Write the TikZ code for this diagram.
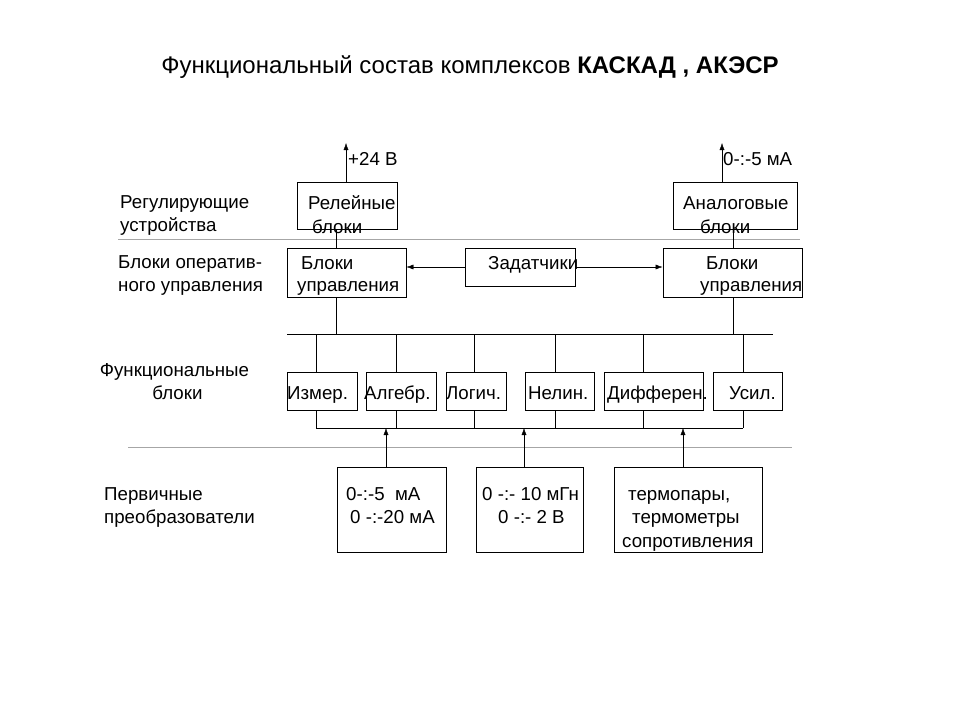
\documentclass[tikz,border=0pt]{standalone}
\usepackage{fontspec}
\setmainfont{Liberation Sans}
\usepackage{tikz}
\usetikzlibrary{arrows.meta,calc,positioning}

\begin{document}
\begin{tikzpicture}[x=1pt,y=-1pt,
	blk/.style={draw,line width=0.9pt,inner sep=0pt},
	lbl/.style={anchor=base west,inner sep=0pt,font=\fontsize{18.7}{22}\selectfont},
	sep/.style={draw=gray!70,line width=0.6pt},
	>={Latex[length=7pt,width=5pt]}]
		\useasboundingbox (0,0) rectangle (960,720);
		% title
		\node[anchor=base,inner sep=0pt,font=\fontsize{24}{28}\selectfont] (title) at (470,73) {Функциональный состав комплексов \textbf{КАСКАД , АКЭСР}};
		% boxes
		\node[blk,minimum width=100pt,minimum height=47pt] (rel) at (347,205.5) {};
		\node[blk,minimum width=124pt,minimum height=47pt] (ana) at (735,205.5) {};
		\node[blk,minimum width=119pt,minimum height=49pt] (ctlL) at (346.5,272.5) {};
		\node[blk,minimum width=110pt,minimum height=38pt] (zad) at (520,267) {};
		\node[blk,minimum width=139pt,minimum height=49pt] (ctlR) at (732.5,272.5) {};
		\node[blk,minimum width=70pt,minimum height=38pt] (izm) at (322,391) {};
		\node[blk,minimum width=70pt,minimum height=38pt] (alg) at (401,391) {};
		\node[blk,minimum width=60pt,minimum height=38pt] (log) at (476,391) {};
		\node[blk,minimum width=69pt,minimum height=38pt] (nel) at (559.5,391) {};
		\node[blk,minimum width=99pt,minimum height=38pt] (dif) at (653.5,391) {};
		\node[blk,minimum width=69pt,minimum height=38pt] (usl) at (747.5,391) {};
		\node[blk,minimum width=109pt,minimum height=85pt] (s1) at (391.5,509.5) {};
		\node[blk,minimum width=107pt,minimum height=85pt] (s2) at (529.5,509.5) {};
		\node[blk,minimum width=148pt,minimum height=85pt] (s3) at (688,509.5) {};
		% texts
		\node[lbl] (t24) at (348,165) {+24 В};
		\node[lbl] (t05) at (723,165) {0-:-5 мА};
		\node[lbl] (rel1) at (308,209) {Релейные};
		\node[lbl] (rel2) at (312,233) {блоки};
		\node[lbl] (ana1) at (683,209) {Аналоговые};
		\node[lbl] (ana2) at (700,233) {блоки};
		\node[lbl] (ctlL1) at (301,269) {Блоки};
		\node[lbl] (ctlL2) at (297,291) {управления};
		\node[lbl] (zad1) at (488,269) {Задатчики};
		\node[lbl] (ctlR1) at (706,269) {Блоки};
		\node[lbl] (ctlR2) at (700,291) {управления};
		\node[lbl] (izm1) at (287,399) {Измер.};
		\node[lbl] (alg1) at (364,399) {Алгебр.};
		\node[lbl] (log1) at (446,399) {Логич.};
		\node[lbl] (nel1) at (528,399) {Нелин.};
		\node[lbl] (dif1) at (607,399) {Дифферен.};
		\node[lbl] (usl1) at (729,399) {Усил.};
		\node[lbl] (s1a) at (346,500) {0-:-5~~мА};
		\node[lbl] (s1b) at (350,523) {0 -:-20 мА};
		\node[lbl] (s2a) at (482,500) {0 -:- 10 мГн};
		\node[lbl] (s2b) at (498,523) {0 -:- 2 В};
		\node[lbl] (s3a) at (628,500) {термопары,};
		\node[lbl] (s3b) at (632,523) {термометры};
		\node[lbl] (s3c) at (622,547) {сопротивления};
		% left column
		\node[lbl] (reg1) at (120,208) {Регулирующие};
		\node[lbl] (reg2) at (120,231) {устройства};
		\node[lbl] (op1) at (118,268) {Блоки оператив-};
		\node[lbl] (op2) at (118,291) {ного управления};
		\node[lbl,anchor=base] (fb1) at (174.5,376) {Функциональные};
		\node[lbl,anchor=base] (fb2) at (177.5,399) {блоки};
		\node[lbl] (pp1) at (104,500) {Первичные};
		\node[lbl] (pp2) at (104,523) {преобразователи};
		% separators
		\draw[sep] (118,239) -- (800,239);
		\draw[sep] (128,447) -- (792,447);
		% outputs
		\coordinate (outL) at (346,143);
		\coordinate (outR) at (722,143);
		\draw[->] (outL |- rel.north) -- (outL);
		\draw[->] (outR |- ana.north) -- (outR);
		% links to the bus
		\coordinate (linkL) at (336,334);
		\coordinate (linkR) at (733,334);
		\draw (linkL |- rel.south) -- (linkL |- ctlL.north);
		\draw (linkR |- ana.south) -- (linkR |- ctlR.north);
		\draw (linkL |- ctlL.south) -- (linkL);
		\draw (linkR |- ctlR.south) -- (linkR);
		\draw[<-] (ctlL.east |- zad.west) -- (zad.west);
		\draw[->] (zad.east) -- (zad.east -| ctlR.west);
		% buses
		\coordinate (topL) at (287,334);
		\coordinate (topR) at (773,334);
		\coordinate (lowL) at (316,428);
		\coordinate (lowR) at (743,428);
		\draw[line width=0.9pt] (topL) -- (topR);
		\draw[line width=0.9pt] (lowL) -- (lowR);
		\foreach \n/\x in {izm/316,alg/396,log/474,nel/555,dif/643,usl/743} {
			\coordinate (d\n) at (\x,334);
			\draw (d\n) -- (d\n |- \n.north);
			\draw (d\n |- \n.south) -- (d\n |- lowL);
		}
		% inputs
		\foreach \s/\x in {s1/386,s2/524,s3/683} {
			\coordinate (in\s) at (\x,428);
			\draw[->] (in\s |- \s.north) -- (in\s);
		}
	\end{tikzpicture}
\end{document}
